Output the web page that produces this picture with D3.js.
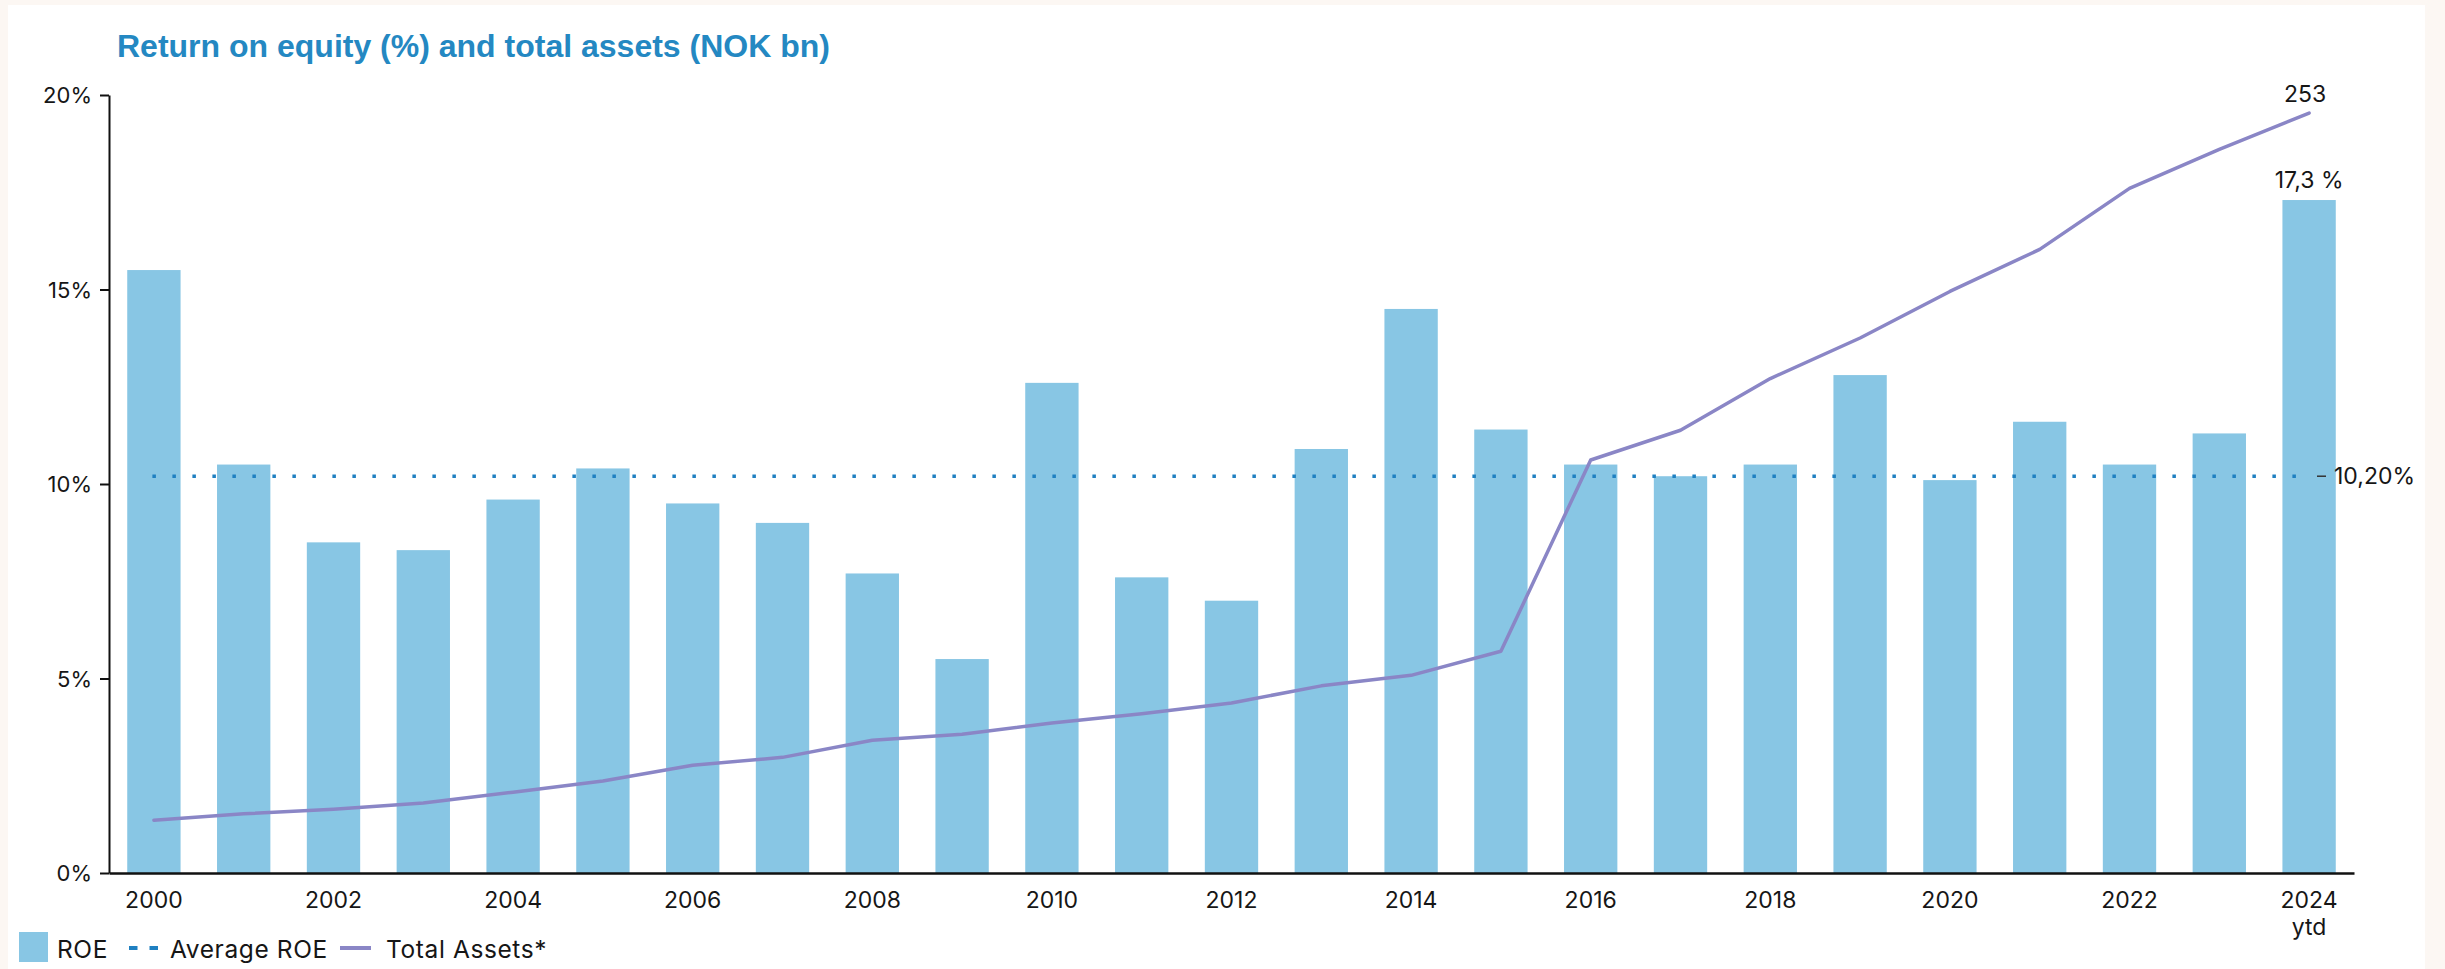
<!DOCTYPE html>
<html>
<head>
<meta charset="utf-8">
<script src="https://cdn.jsdelivr.net/npm/d3@7"></script>
<style>
  html, body { margin: 0; padding: 0; background: #fcf7f3; }
  svg { display: block; }
  .lbl { font-family: Inter, "Noto Sans", sans-serif; fill: #161616; }
  .leg { font-family: Inter, "Noto Sans", sans-serif; fill: #161616; font-size: 24.5px; letter-spacing: 0.6px; }
</style>
</head>
<body>
<svg id="chart" width="2445" height="969"></svg>
<script>
// Years on the category axis
const years = [2000, 2001, 2002, 2003, 2004, 2005, 2006, 2007, 2008, 2009, 2010, 2011, 2012,
               2013, 2014, 2015, 2016, 2017, 2018, 2019, 2020, 2021, 2022, 2023, 2024];
// Return on equity, %
const roe = [15.5, 10.5, 8.5, 8.3, 9.6, 10.4, 9.5, 9.0, 7.7, 5.5, 12.6, 7.6, 7.0,
             10.9, 14.5, 11.4, 10.5, 10.2, 10.5, 12.8, 10.1, 11.6, 10.5, 11.3, 17.3];
// Total assets, NOK bn
const totalAssets = [17.6, 19.7, 21.2, 23.3, 26.9, 30.6, 35.9, 38.5, 44.2, 46.2, 49.9, 53.0, 56.6,
                     62.3, 65.8, 73.8, 137.5, 147.4, 164.6, 178.1, 193.6, 207.6, 227.9, 240.9, 253];
// Average ROE over the period, %
const averageRoe = 10.2;
// Axis tick values and labels
const yTicks = [0, 5, 10, 15, 20];
const xTickYears = [2000, 2002, 2004, 2006, 2008, 2010, 2012, 2014, 2016, 2018, 2020, 2022, 2024];
const xTickLabels = ["2000", "2002", "2004", "2006", "2008", "2010", "2012", "2014", "2016", "2018", "2020", "2022", "2024\nytd"];
const legendItems = ["ROE", "Average ROE", "Total Assets*"];

const colBar = "#88c6e4";
const colAvg = "#1f80c1";
const colLine = "#8a86c6";

const svg = d3.select("#chart");

// white panel
svg.append("rect").attr("x", 8).attr("y", 5).attr("width", 2417).attr("height", 964).attr("fill", "#ffffff");

// title
svg.append("text")
  .attr("x", 117).attr("y", 57)
  .attr("font-family", "'Liberation Sans', Arial, sans-serif")
  .attr("font-weight", "bold")
  .attr("font-size", 32)
  .attr("fill", "#2488c2")
  .text("Return on equity (%) and total assets (NOK bn)");

const plotLeft = 109, plotRight = 2354, plotTop = 95, plotBottom = 873;

const x = d3.scaleBand().domain(years).range([plotLeft, plotRight]).paddingInner(0.406).paddingOuter(0.203);
const y = d3.scaleLinear().domain([0, 20]).range([plotBottom, plotTop]);
const yAssets = d3.scaleLinear().domain([0, 259]).range([plotBottom, plotTop]);
const cx = d => x(d) + x.bandwidth() / 2;

// bars
svg.append("g").selectAll("rect").data(years).join("rect")
  .attr("x", d => x(d))
  .attr("y", (d, i) => y(roe[i]))
  .attr("width", x.bandwidth())
  .attr("height", (d, i) => y(0) - y(roe[i]))
  .attr("fill", colBar);

// average ROE dotted line
const avgStart = cx(years[0]) - 1.5;
const avgEnd = cx(years[years.length - 1]) - 10;
svg.append("line")
  .attr("x1", avgStart).attr("x2", avgEnd)
  .attr("y1", y(averageRoe)).attr("y2", y(averageRoe))
  .attr("stroke", colAvg).attr("stroke-width", 3.5)
  .attr("stroke-dasharray", "3.5 16.5");
svg.append("line")
  .attr("x1", 2317).attr("x2", 2326)
  .attr("y1", y(averageRoe)).attr("y2", y(averageRoe))
  .attr("stroke", "#333").attr("stroke-width", 1.5);
svg.append("text").attr("class", "lbl")
  .attr("x", 2334).attr("y", y(averageRoe) + 8)
  .attr("font-size", 23)
  .text(d3.format(".2f")(averageRoe).replace(".", ",") + "%");

// total assets line
const line = d3.line().x((d, i) => cx(years[i])).y(d => yAssets(d));
svg.append("path").datum(totalAssets)
  .attr("d", line)
  .attr("fill", "none")
  .attr("stroke", colLine)
  .attr("stroke-width", 3.5)
  .attr("stroke-linejoin", "round")
  .attr("stroke-linecap", "round");

// end labels
const last = years.length - 1;
svg.append("text").attr("class", "lbl")
  .attr("x", cx(years[last]) - 4).attr("y", yAssets(totalAssets[last]) - 11)
  .attr("text-anchor", "middle").attr("font-size", 23)
  .text(d3.format("d")(totalAssets[last]));
svg.append("text").attr("class", "lbl")
  .attr("x", cx(years[last])).attr("y", y(roe[last]) - 12)
  .attr("text-anchor", "middle").attr("font-size", 23)
  .text(String(roe[last]).replace(".", ",") + " %");

// y axis
const yAxis = svg.append("g").attr("transform", `translate(${plotLeft},0)`)
  .call(d3.axisLeft(y).tickValues(yTicks).tickFormat(d => d + "%").tickSize(9).tickSizeOuter(0).tickPadding(8));
yAxis.select(".domain").attr("stroke", "#111").attr("stroke-width", 2);
yAxis.selectAll(".tick line").attr("stroke", "#111").attr("stroke-width", 2);
yAxis.selectAll(".tick text")
  .attr("font-family", "Inter, 'Noto Sans', sans-serif")
  .attr("font-size", 22).attr("fill", "#161616").attr("dy", "0.36em");

// x axis
const xAxis = svg.append("g").attr("transform", `translate(0,${plotBottom})`)
  .call(d3.axisBottom(x).tickValues(xTickYears).tickSize(0).tickSizeOuter(0).tickPadding(0).tickFormat(() => ""));
xAxis.select(".domain").attr("stroke", "#111").attr("stroke-width", 2.5);
xAxis.selectAll(".tick").each(function (d) {
  const lab = xTickLabels[xTickYears.indexOf(d)].split("\n");
  const t = d3.select(this).select("text")
    .attr("font-family", "Inter, 'Noto Sans', sans-serif")
    .attr("font-size", 23).attr("fill", "#161616")
    .attr("y", 35).attr("dy", null).text(null);
  lab.forEach((s, k) => t.append("tspan").attr("x", 0).attr("y", 35 + k * 27).text(s));
});

// legend
const lg = svg.append("g");
lg.append("rect").attr("x", 19).attr("y", 932).attr("width", 29).attr("height", 30).attr("fill", colBar);
lg.append("text").attr("class", "leg").attr("x", 57).attr("y", 958).text(legendItems[0]);
lg.append("line").attr("x1", 129).attr("x2", 158).attr("y1", 948).attr("y2", 948)
  .attr("stroke", colAvg).attr("stroke-width", 4).attr("stroke-dasharray", "8.5 12");
lg.append("text").attr("class", "leg").attr("x", 170).attr("y", 958).text(legendItems[1]);
lg.append("line").attr("x1", 340).attr("x2", 371).attr("y1", 948).attr("y2", 948)
  .attr("stroke", colLine).attr("stroke-width", 4);
lg.append("text").attr("class", "leg").attr("x", 386).attr("y", 958).text(legendItems[2]);
</script>
</body>
</html>
